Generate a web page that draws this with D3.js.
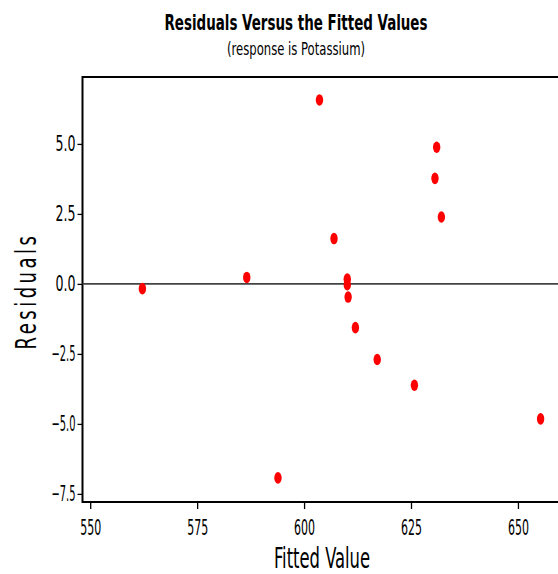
<!DOCTYPE html>
<html>
<head>
<meta charset="utf-8">
<script src="https://cdn.jsdelivr.net/npm/d3@7"></script>
<style>
  html, body { margin: 0; padding: 0; background: #fff; }
  svg { display: block; }
  text { font-family: "DejaVu Sans Condensed", "DejaVu Sans", sans-serif; fill: #000; }
</style>
</head>
<body>
<svg id="chart" width="558" height="574"></svg>
<script>
// Fitted values and residuals from the potassium regression
const fittedValues = [562.2, 586.6, 593.9, 603.6, 607.0, 610.1, 610.1, 610.3, 612.0, 617.1, 625.8, 631.0, 630.6, 632.1, 655.3];
const residuals    = [-0.17, 0.23, -6.93, 6.57, 1.62, 0.17, -0.03, -0.47, -1.56, -2.70, -3.62, 4.88, 3.77, 2.39, -4.82];
const xTicks = [550, 575, 600, 625, 650];
const yTicks = [-7.5, -5.0, -2.5, 0.0, 2.5, 5.0];

const svg = d3.select("#chart");
const plotLeft = 82.5, plotTop = 77, plotRight = 562, plotBottom = 502;

const x = d3.scaleLinear().domain([548.2, 660.3]).range([plotLeft, plotRight]);
const y = d3.scaleLinear().domain([-7.79, 7.39]).range([plotBottom, plotTop]);

// squeeze a text element to a given width
function fit(sel, w) {
  sel.attr("textLength", w).attr("lengthAdjust", "spacingAndGlyphs");
}

// frame
svg.append("rect")
  .attr("x", plotLeft).attr("y", plotTop)
  .attr("width", plotRight - plotLeft).attr("height", plotBottom - plotTop)
  .attr("fill", "none").attr("stroke", "#000").attr("stroke-width", 2);

// reference line at zero
svg.append("line")
  .attr("x1", plotLeft).attr("x2", plotRight)
  .attr("y1", y(0)).attr("y2", y(0))
  .attr("stroke", "#444").attr("stroke-width", 1.6);

// axes
const xAxis = svg.append("g")
  .attr("transform", `translate(0,${plotBottom})`)
  .call(d3.axisBottom(x).tickValues(xTicks).tickFormat(d3.format("d")).tickSizeOuter(0).tickSize(7).tickPadding(6));
const yAxis = svg.append("g")
  .attr("transform", `translate(${plotLeft},0)`)
  .call(d3.axisLeft(y).tickValues(yTicks).tickFormat(d3.format(".1f")).tickSizeOuter(0).tickSize(5).tickPadding(2));

[xAxis, yAxis].forEach(g => {
  g.select(".domain").remove();
  g.selectAll(".tick line").attr("stroke", "#000").attr("stroke-width", 1.3);
  g.selectAll(".tick text")
    .attr("font-family", "DejaVu Sans Condensed, DejaVu Sans, sans-serif")
    .attr("font-size", 21).attr("fill", "#000");
});
xAxis.selectAll(".tick text").attr("dy", "0.95em").each(function () { fit(d3.select(this), 21); });
yAxis.selectAll(".tick text").each(function (d) { fit(d3.select(this), d < 0 ? 24 : 20); });

// points
svg.append("g").selectAll("ellipse")
  .data(fittedValues.map((f, i) => ({ f, r: residuals[i] })))
  .join("ellipse")
  .attr("cx", d => x(d.f)).attr("cy", d => y(d.r))
  .attr("rx", 3.7).attr("ry", 5.8)
  .attr("fill", "#ff0000");

// titles
svg.append("text")
  .attr("x", 296).attr("y", 30).attr("text-anchor", "middle")
  .attr("font-size", 22).attr("font-weight", "bold")
  .text("Residuals Versus the Fitted Values").call(fit, 263);
svg.append("text")
  .attr("x", 296).attr("y", 55).attr("text-anchor", "middle")
  .attr("font-size", 18)
  .text("(response is Potassium)").call(fit, 138);

svg.append("text")
  .attr("x", 322).attr("y", 568).attr("text-anchor", "middle")
  .attr("font-size", 28)
  .text("Fitted Value").call(fit, 96);
svg.append("text")
  .attr("transform", "translate(36,291) rotate(-90)").attr("text-anchor", "middle")
  .attr("font-size", 29).attr("letter-spacing", 5)
  .text("Residuals").call(fit, 117);
</script>
</body>
</html>
